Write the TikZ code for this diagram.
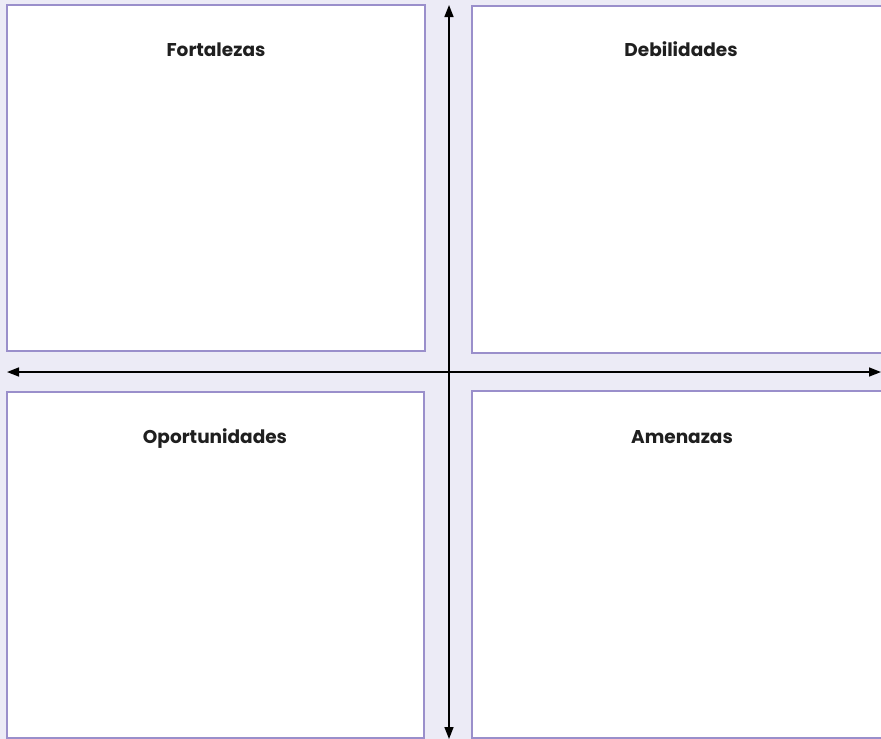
\documentclass[tikz,border=0pt]{standalone}
\usepackage{fontspec}
\setmainfont{Poppins}
\usetikzlibrary{arrows.meta}
\definecolor{bg}{HTML}{ECEBF6}
\definecolor{edge}{HTML}{9A8FCB}
\tikzset{
  quad/.style={draw=edge, line width=2pt, fill=white},
  title/.style={font=\bfseries\fontsize{18.5}{22}\selectfont, anchor=base, text=black!88},
  axis/.style={line width=1.6pt, black, {Triangle[length=12pt,width=9pt]}-{Triangle[length=12pt,width=9pt]}}
}
\begin{document}
\begin{tikzpicture}[x=1pt,y=-1pt]
\useasboundingbox (0,0) rectangle (881,739);
\fill[bg] (0,0) rectangle (881,739);
\begin{scope}
\clip (0,0) rectangle (881,739);
\draw[quad] (7,5) rectangle (425,351);
\draw[quad] (472,6) rectangle (895,353);
\draw[quad] (7,392) rectangle (424,738);
\draw[quad] (472,391) rectangle (895,738);
\end{scope}
\node[title] (f) at (216,56) {Fortalezas};
\node[title] (d) at (681,56) {Debilidades};
\node[title] (o) at (215,443) {Oportunidades};
\node[title] (a) at (682,443) {Amenazas};
\coordinate (l) at (7,372);
\coordinate (r) at (881,372);
\coordinate (t) at (449,5);
\coordinate (b) at (449,739);
\draw[axis] (l) -- (r);
\draw[axis] (t) -- (b);
\end{tikzpicture}
\end{document}
